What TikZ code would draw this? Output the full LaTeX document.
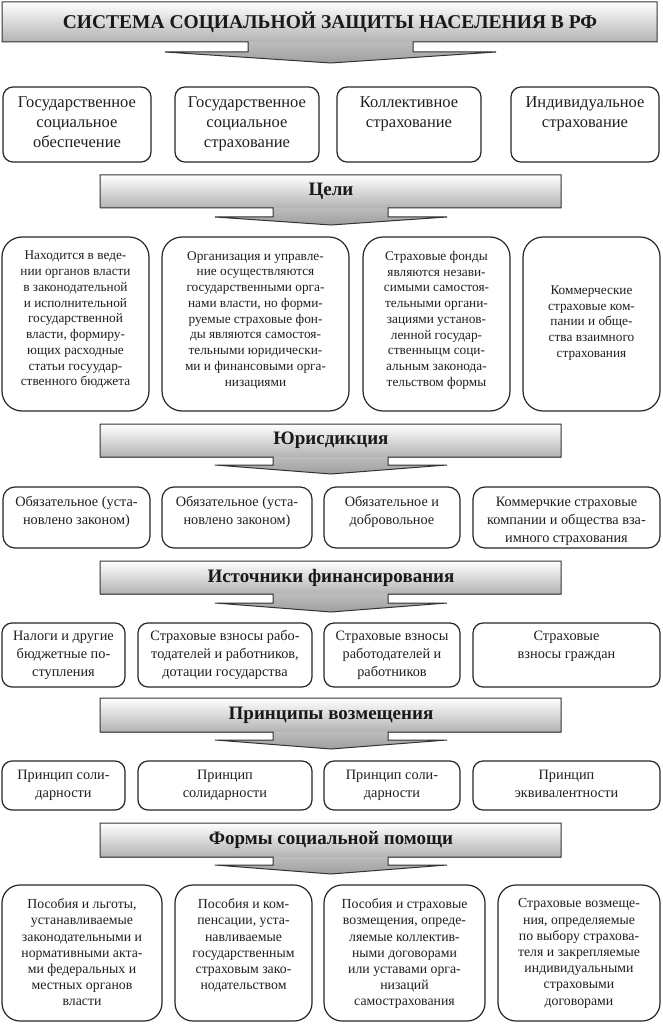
\documentclass[tikz,border=0pt]{standalone}
\usepackage{fontspec}
\setmainfont{Liberation Serif}
\usetikzlibrary{fit}
\tikzset{
  box/.style={draw=black!85, line width=1.2pt, inner sep=0pt, fill=white},
  lbl/.style={inner sep=0pt, align=center, anchor=north, text=black!88},
  fA/.style={font=\fontsize{16.5}{20}\selectfont},
  fB/.style={font=\fontsize{13.3}{15.75}\selectfont},
  fC/.style={font=\fontsize{14.3}{18}\selectfont},
  fD/.style={font=\fontsize{13.8}{16.2}\selectfont},
  bline/.style={draw=black!80, line width=1pt, line join=miter},
  btext/.style={inner sep=0pt, font=\bfseries\fontsize{19}{22}\selectfont, text=black!90},
}
\newcommand{\bann}[6]{%
  \shade[top color=white, bottom color=black!30] (100,#2) rectangle (561,#3);
  \shade[top color=black!26, bottom color=black!38] (273,#3) -- (273,#4) -- (215,#4) -- (331,#5) -- (447,#4) -- (388,#4) -- (388,#3) -- cycle;
  \draw[bline] (273,#3) -- (100,#3) -- (100,#2) -- (561,#2) -- (561,#3) -- (388,#3) -- (388,#4) -- (447,#4) -- (331,#5) -- (215,#4) -- (273,#4) -- cycle;
  \node[btext] (#1) at (331,{(#2+#3)/2}) {#6};
}
\begin{document}
\begin{tikzpicture}[x={(1pt,0pt)}, y={(0pt,-1pt)}]
\useasboundingbox (0,0) rectangle (662,1024);
\fill[white] (0,0) rectangle (662,1024);

% ---------- title ----------
\shade[top color=white, bottom color=black!30] (2,2) rectangle (657,42);
\shade[top color=black!26, bottom color=black!38] (248,42) -- (248,52) -- (165,52) -- (331,63) -- (496,52) -- (413,52) -- (413,42) -- cycle;
\draw[bline] (248,42) -- (2,42) -- (2,2) -- (657,2) -- (657,42) -- (413,42) -- (413,52) -- (496,52) -- (331,63) -- (165,52) -- (248,52) -- cycle;
\node[inner sep=0pt, font=\bfseries\fontsize{19.5}{24}\selectfont, text=black!90] (title) at (330,22) {СИСТЕМА СОЦИАЛЬНОЙ ЗАЩИТЫ НАСЕЛЕНИЯ В РФ};

% ---------- row 1 ----------
\node[box, rounded corners=10pt, fit={(3,87) (151,162)}] (b11) {};
\node[box, rounded corners=10pt, fit={(175,87) (319,162)}] (b12) {};
\node[box, rounded corners=10pt, fit={(337,87) (481,162)}] (b13) {};
\node[box, rounded corners=10pt, fit={(511,87) (659,162)}] (b14) {};
\node[lbl, fA] (t11) at (77,96.5) {Государственное\\социальное\\обеспечение};
\node[lbl, fA] (t12) at (247,96.5) {Государственное\\социальное\\страхование};
\node[lbl, fA] (t13) at (409,96.5) {Коллективное\\страхование};
\node[lbl, fA] (t14) at (585,96.5) {Индивидуальное\\страхование};

\bann{h1}{175}{208}{217}{225}{Цели}

% ---------- row 2 ----------
\node[box, rounded corners=20pt, fit={(2,237) (149,411)}] (b21) {};
\node[box, rounded corners=20pt, fit={(162,237) (349,411)}] (b22) {};
\node[box, rounded corners=20pt, fit={(363,237) (510,411)}] (b23) {};
\node[box, rounded corners=20pt, fit={(523,237) (660,411)}] (b24) {};
\node[lbl, fB] (t21) at (75.5,251) {Находится в веде-\\нии органов власти\\в законодательной\\и исполнительной\\государственной\\власти, формиру-\\ющих расходные\\статьи госуудар-\\ственного бюджета};
\node[lbl, fB] (t22) at (255.5,251) {Организация и управле-\\ние осуществляются\\государственными орга-\\нами власти, но форми-\\руемые страховые фон-\\ды являются самостоя-\\тельными юридически-\\ми и финансовыми орга-\\низациями};
\node[lbl, fB] (t23) at (436.5,251) {Страховые фонды\\являются незави-\\симыми самостоя-\\тельными органи-\\зациями установ-\\ленной государ-\\ственныцм соци-\\альным законода-\\тельством формы};
\node[lbl, fB, anchor=center] (t24) at (591.5,323) {Коммерческие\\страховые ком-\\пании и обще-\\ства взаимного\\страхования};

\bann{h2}{424}{457}{465}{474}{Юрисдикция}

% ---------- row 3 ----------
\node[box, rounded corners=12pt, fit={(3,487) (150,548)}] (b31) {};
\node[box, rounded corners=12pt, fit={(162,487) (312,548)}] (b32) {};
\node[box, rounded corners=12pt, fit={(324,487) (460,548)}] (b33) {};
\node[box, rounded corners=12pt, fit={(473,487) (660,548)}] (b34) {};
\node[lbl, fC] (t31) at (76.5,496.5) {Обязательное (уста-\\новлено законом)};
\node[lbl, fC] (t32) at (237,496.5) {Обязательное (уста-\\новлено законом)};
\node[lbl, fC] (t33) at (392,496.5) {Обязательное и\\добровольное};
\node[lbl, fC] (t34) at (566.5,496.5) {Коммерчкие страховые\\компании и общества вза-\\имного страхования};

\bann{h3}{561}{594}{603}{612}{Источники финансирования}

% ---------- row 4 ----------
\node[box, rounded corners=10pt, fit={(2,623) (125,687)}] (b41) {};
\node[box, rounded corners=10pt, fit={(138,623) (312,687)}] (b42) {};
\node[box, rounded corners=10pt, fit={(324,623) (460,687)}] (b43) {};
\node[box, rounded corners=10pt, fit={(473,623) (660,687)}] (b44) {};
\node[lbl, fC] (t41) at (63.5,630.5) {Налоги и другие\\бюджетные по-\\ступления};
\node[lbl, fC] (t42) at (225,630.5) {Страховые взносы рабо-\\тодателей и работников,\\дотации государства};
\node[lbl, fC] (t43) at (392,630.5) {Страховые взносы\\работодателей и\\работников};
\node[lbl, fC] (t44) at (566.5,630.5) {Страховые\\взносы граждан};

\bann{h4}{698}{732}{740}{749}{Принципы возмещения}

% ---------- row 5 ----------
\node[box, rounded corners=10pt, fit={(2,761) (125,810)}] (b51) {};
\node[box, rounded corners=10pt, fit={(138,761) (312,810)}] (b52) {};
\node[box, rounded corners=10pt, fit={(324,761) (460,810)}] (b53) {};
\node[box, rounded corners=10pt, fit={(473,761) (660,810)}] (b54) {};
\node[lbl, fC] (t51) at (63.5,769.5) {Принцип соли-\\дарности};
\node[lbl, fC] (t52) at (225,769.5) {Принцип\\солидарности};
\node[lbl, fC] (t53) at (392,769.5) {Принцип соли-\\дарности};
\node[lbl, fC] (t54) at (566.5,769.5) {Принцип\\эквивалентности};

\bann{h5}{823}{857}{865}{874}{Формы социальной помощи}

% ---------- row 6 ----------
\node[box, rounded corners=18pt, fit={(2,885) (162,1021)}] (b61) {};
\node[box, rounded corners=18pt, fit={(175,885) (312,1021)}] (b62) {};
\node[box, rounded corners=18pt, fit={(324,885) (485,1021)}] (b63) {};
\node[box, rounded corners=18pt, fit={(498,885) (660,1021)}] (b64) {};
\node[lbl, fD] (t61) at (82,898.6) {Пособия и льготы,\\устанавливаемые\\законодательными и\\нормативными акта-\\ми федеральных и\\местных органов\\власти};
\node[lbl, fD] (t62) at (243.5,898.6) {Пособия и ком-\\пенсации, уста-\\навливаемые\\государственным\\страховым зако-\\нодательством};
\node[lbl, fD] (t63) at (404.5,898.6) {Пособия и страховые\\возмещения, опреде-\\ляемые коллектив-\\ными договорами\\или уставами орга-\\низаций\\самострахования};
\node[lbl, fD] (t64) at (579,898.6) {Страховые возмеще-\\ния, определяемые\\по выбору страхова-\\теля и закрепляемые\\индивидуальными\\страховыми\\договорами};
\end{tikzpicture}
\end{document}
